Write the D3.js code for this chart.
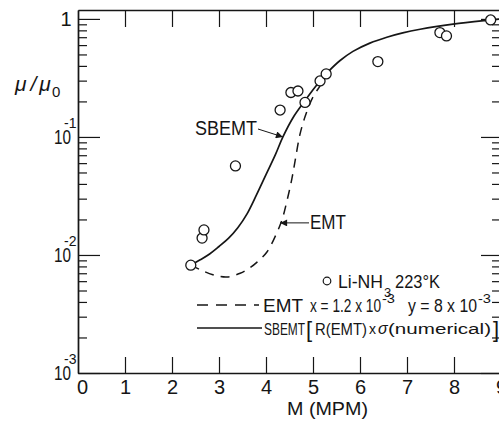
<!DOCTYPE html>
<html><head><meta charset="utf-8">
<script src="https://cdn.jsdelivr.net/npm/d3@7"></script>
<style>
html,body{margin:0;padding:0;background:#fff;}
svg{display:block;}
text{font-family:"Liberation Sans","DejaVu Sans",sans-serif;fill:#151515;}
</style></head><body>
<svg id="chart" width="499" height="423"></svg>
<script>
// Measured mobility ratio for Li-NH3 at 223 K
const obsMPM = [2.40, 2.64, 2.68, 3.35, 4.30, 4.53, 4.68, 4.83, 5.15, 5.28, 6.38, 7.70, 7.84, 8.78];
const obsMu  = [0.0082, 0.0139, 0.0163, 0.0568, 0.169, 0.238, 0.245, 0.196, 0.298, 0.342, 0.435, 0.766, 0.718, 0.98];

// EMT prediction (x = 1.2e-3, y = 8e-3)
const emtMPM = [2.40, 2.60, 2.87, 3.17, 3.45, 3.66, 3.81, 4.02, 4.23, 4.34, 4.45, 4.55, 4.62, 4.72, 4.83, 4.98, 5.15, 5.30, 5.45];
const emtMu  = [0.0082, 0.0075, 0.0068, 0.0065, 0.0070, 0.0078, 0.0087, 0.0106, 0.0154, 0.0198, 0.0292, 0.0441, 0.0630, 0.104, 0.148, 0.210, 0.271, 0.335, 0.40];

// SBEMT prediction
const sbemtMPM = [2.40, 2.60, 2.80, 3.00, 3.20, 3.40, 3.60, 3.80, 4.00, 4.20, 4.36, 4.60, 4.81, 5.00, 5.15, 5.30, 5.57, 5.85, 6.21, 6.57, 6.91, 7.28, 7.98, 8.70, 9.00];
const sbemtMu  = [0.0082, 0.0091, 0.0102, 0.0118, 0.0138, 0.0170, 0.0224, 0.0324, 0.0479, 0.0708, 0.100, 0.151, 0.198, 0.251, 0.298, 0.349, 0.442, 0.531, 0.624, 0.700, 0.762, 0.817, 0.902, 0.973, 1.00];

const xTickLabels = ["0", "1", "2", "3", "4", "5", "6", "7", "8", "9"];
const yDecades = [1e-3, 1e-2, 1e-1, 1];
const yDecadeExponents = ["-3", "-2", "-1", ""];

const svg = d3.select("#chart");
const ink = "#161616";

const x = d3.scaleLinear().domain([0, 9]).range([78, 501]);
const y = d3.scaleLog().domain([1e-3, 1.19]).range([373, 10]);

// minor log ticks 2..9 inside each decade
const yMinor = [];
yDecades.slice(0, 3).forEach(d => { for (let k = 2; k <= 9; k++) yMinor.push(k * d); });
const xInner = d3.range(1, 9);

function styleAxis(g) {
  g.selectAll("path").attr("stroke", ink).attr("stroke-width", 1.4);
  g.selectAll("line").attr("stroke", ink).attr("stroke-width", 1.2);
  g.selectAll("text").remove();
}

// frame
svg.append("g").call(d3.axisLeft(y).tickValues(yDecades).tickSizeInner(-22).tickSizeOuter(0).tickFormat(""))
  .attr("transform", `translate(${x(0)},0)`).call(styleAxis);
svg.append("g").call(d3.axisLeft(y).tickValues(yMinor).tickSizeInner(-9).tickSizeOuter(0).tickFormat(""))
  .attr("transform", `translate(${x(0)},0)`).call(styleAxis);
svg.append("g").call(d3.axisRight(y).tickValues(yDecades).tickSizeInner(-20).tickSizeOuter(0).tickFormat(""))
  .attr("transform", `translate(${x(9)},0)`).call(styleAxis);
svg.append("g").call(d3.axisRight(y).tickValues(yMinor).tickSizeInner(-9).tickSizeOuter(0).tickFormat(""))
  .attr("transform", `translate(${x(9)},0)`).call(styleAxis);
svg.append("g").call(d3.axisBottom(x).tickValues(xInner).tickSizeInner(-16).tickSizeOuter(0).tickFormat(""))
  .attr("transform", `translate(0,${y(1e-3)})`).call(styleAxis);
svg.append("g").call(d3.axisTop(x).tickValues(xInner).tickSizeInner(-17).tickSizeOuter(0).tickFormat(""))
  .attr("transform", `translate(0,${y(1.19)})`).call(styleAxis);

// x tick labels
const xl = svg.append("g").attr("transform", `translate(0,${y(1e-3)})`)
  .call(d3.axisBottom(x).tickValues(d3.range(0, 10)).tickSize(0).tickPadding(7)
    .tickFormat((d, i) => xTickLabels[i]));
xl.select(".domain").remove();
xl.selectAll("text").attr("font-size", 20).attr("font-family", "Liberation Sans, sans-serif").attr("fill", ink)
  .attr("dx", (d) => d === 0 ? 4 : 0);

// y tick labels: 1, 10^-1, 10^-2, 10^-3
yDecades.forEach((d, i) => {
  const py = y(d);
  if (yDecadeExponents[i] === "") {
    svg.append("text").attr("x", 66).attr("y", py + 7).attr("text-anchor", "middle")
      .attr("font-size", 20).text("1");
  } else {
    svg.append("text").attr("x", 71).attr("y", py + 7).attr("text-anchor", "end")
      .attr("font-size", 20).attr("textLength", 17).attr("lengthAdjust", "spacingAndGlyphs").text("10");
    svg.append("text").attr("x", 64).attr("y", py - 9)
      .attr("font-size", 14).text(yDecadeExponents[i]);
  }
});

// axis titles
svg.append("text").attr("x", 287).attr("y", 415).attr("font-size", 19)
  .attr("textLength", 81).attr("lengthAdjust", "spacingAndGlyphs").text("M (MPM)");
const yt = svg.append("text").attr("x", 15).attr("y", 91).attr("font-size", 21).attr("font-style", "italic");
yt.append("tspan").text("μ");
yt.append("tspan").attr("dx", 4).text("/");
yt.append("tspan").attr("dx", 3).text("μ");
yt.append("tspan").attr("font-size", 15).attr("font-style", "normal").attr("dy", 6).attr("dx", 1).text("0");

// curves
const lineGen = d3.line().x(d => x(d[0])).y(d => y(d[1])).curve(d3.curveCatmullRom.alpha(0.5));
svg.append("clipPath").attr("id", "plotArea").append("rect")
  .attr("x", x(0)).attr("y", y(1.19)).attr("width", x(9) - x(0)).attr("height", y(1e-3) - y(1.19));

svg.append("path").datum(d3.zip(sbemtMPM, sbemtMu)).attr("d", lineGen)
  .attr("fill", "none").attr("stroke", ink).attr("stroke-width", 1.7).attr("clip-path", "url(#plotArea)");
svg.append("path").datum(d3.zip(emtMPM, emtMu)).attr("d", lineGen)
  .attr("fill", "none").attr("stroke", ink).attr("stroke-width", 1.5).attr("stroke-dasharray", "9,7");

// observations
svg.append("g").selectAll("circle").data(d3.zip(obsMPM, obsMu)).join("circle")
  .attr("cx", d => x(d[0])).attr("cy", d => y(d[1])).attr("r", 5)
  .attr("fill", "#fff").attr("stroke", ink).attr("stroke-width", 1.3);

// arrow annotations
svg.append("defs").append("marker").attr("id", "head").attr("viewBox", "0 0 10 10")
  .attr("refX", 10).attr("refY", 5).attr("markerWidth", 9).attr("markerHeight", 7)
  .attr("markerUnits", "userSpaceOnUse").attr("orient", "auto")
  .append("path").attr("d", "M0,0L10,5L0,10Z").attr("fill", ink);

svg.append("text").attr("x", 195).attr("y", 135).attr("font-size", 20)
  .attr("textLength", 62).attr("lengthAdjust", "spacingAndGlyphs").text("SBEMT");
svg.append("line").attr("x1", 258).attr("y1", 129).attr("x2", x(4.36)).attr("y2", y(0.1))
  .attr("stroke", ink).attr("stroke-width", 1).attr("marker-end", "url(#head)");

svg.append("text").attr("x", 310).attr("y", 229).attr("font-size", 20)
  .attr("textLength", 36).attr("lengthAdjust", "spacingAndGlyphs").text("EMT");
svg.append("line").attr("x1", 309).attr("y1", y(0.0187)).attr("x2", x(4.30)).attr("y2", y(0.0187))
  .attr("stroke", ink).attr("stroke-width", 1).attr("marker-end", "url(#head)");

// legend
const lg = svg.append("g");
function legendText(px, py, size, len, str) {
  const t = lg.append("text").attr("x", px).attr("y", py).attr("font-size", size).text(str);
  if (len) t.attr("textLength", len).attr("lengthAdjust", "spacingAndGlyphs");
  return t;
}
lg.append("circle").attr("cx", 327).attr("cy", 281).attr("r", 3.8)
  .attr("fill", "#fff").attr("stroke", ink).attr("stroke-width", 1.2);
legendText(338, 288, 19, 45, "Li-NH");
legendText(384, 297, 13, 0, "3");
legendText(395, 288, 19, 45, "223°K");

lg.append("line").attr("x1", 197).attr("x2", 259).attr("y1", 305).attr("y2", 305)
  .attr("stroke", ink).attr("stroke-width", 1.5).attr("stroke-dasharray", "11,8");
legendText(263, 312, 18, 40, "EMT");
legendText(310, 312, 18, 71, "x = 1.2 x 10");
legendText(382, 303, 13, 13, "-3");
legendText(408, 312, 18, 69, "y = 8 x 10");
legendText(478, 303, 13, 13, "-3");

lg.append("line").attr("x1", 197).attr("x2", 262).attr("y1", 328).attr("y2", 328)
  .attr("stroke", ink).attr("stroke-width", 1.6);
legendText(264, 335, 17, 41, "SBEMT");
legendText(306, 337, 22, 0, "[");
legendText(315, 335, 17, 52, "R(EMT)");
legendText(369, 334, 14, 0, "x");
lg.append("text").attr("x", 378).attr("y", 334).attr("font-size", 16).attr("font-style", "italic").text("σ");
legendText(388, 334, 14, 103, "(numerical)");
legendText(493, 337, 22, 0, "]");
</script>
</body></html>
